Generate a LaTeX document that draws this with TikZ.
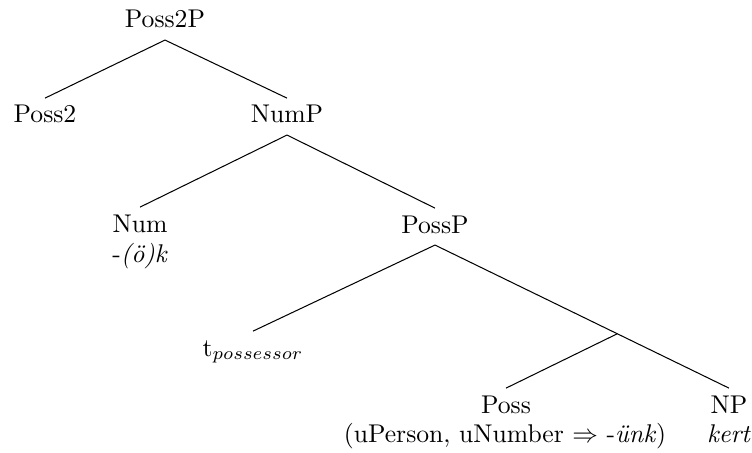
\documentclass[tikz,border=0pt]{standalone}
\usetikzlibrary{calc}
\begin{document}
\begin{tikzpicture}[x=0.39pt,y=-0.39pt,
  lbl/.style={anchor=base, inner xsep=0pt, inner ysep=2.6pt, text height=6.9pt, text depth=1.9pt},
  gloss/.style={anchor=base, inner sep=0pt},
  branch/.style={line width=0.4pt}]
\useasboundingbox (0,0) rectangle (752,452);
\node[lbl] (root) at (165,28) {Poss2P};
\node[lbl] (poss2) at (45,123) {Poss2};
\node[lbl] (nump) at (287,123) {NumP};
\node[lbl] (num) at (140,232) {Num};
\node[gloss] (numg) at (140,262) {-\textit{(ö)k}};
\node[lbl] (possp) at (435,233) {PossP};
\node[lbl] (trace) at (253,356) {t$_{possessor}$};
\node[lbl] (poss) at (506,413) {Poss};
\node[gloss] (possg) at (505,442) {(uPerson, uNumber $\Rightarrow$ -\textit{ünk})};
\node[lbl] (np) at (729,413) {NP};
\node[gloss] (npg) at (729,442) {\textit{kert}};
\coordinate (pbar) at ($(possp.south)!0.62!(np.north)$);
\draw[branch] (root.south) -- (poss2.north);
\draw[branch] (root.south) -- (nump.north);
\draw[branch] (nump.south) -- (num.north);
\draw[branch] (nump.south) -- (possp.north);
\draw[branch] (possp.south) -- (trace.north);
\draw[branch] (possp.south) -- (np.north);
\draw[branch] (pbar) -- (poss.north);
\end{tikzpicture}
\end{document}
